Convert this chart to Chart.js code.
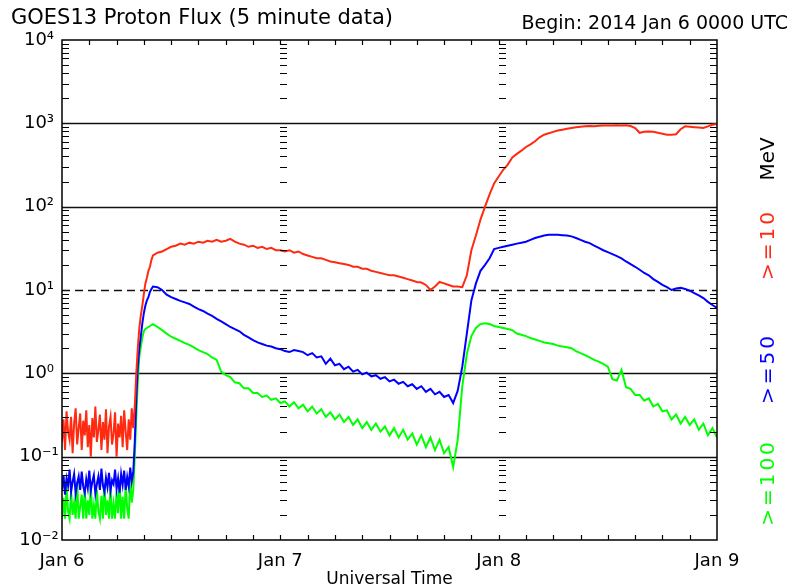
<!DOCTYPE html>
<html>
<head>
<meta charset="utf-8">
<script src="https://cdn.jsdelivr.net/npm/chart.js@4"></script>
<style>
html,body{margin:0;padding:0;background:#fff;}
</style>
</head>
<body>
<canvas id="protonChart" width="800" height="586"></canvas>
<script>
// GOES13 proton flux, 2014 Jan 6 - Jan 9
// x = hours since Jan 6 0000 UT

// sample times: every 10 min up to hour 10, then every 30 min
const hours = [];
for (let m = 0; m <= 600; m += 10) hours.push(m / 60);
for (let m = 630; m <= 4320; m += 30) hours.push(m / 60);

// >=10 MeV
const flux10 = [
  0.15, 0.28, 0.12, 0.35, 0.20, 0.16, 0.30, 0.11,
  0.25, 0.38, 0.14, 0.22, 0.33, 0.12, 0.27, 0.18,
  0.36, 0.13, 0.24, 0.10, 0.29, 0.17, 0.40, 0.15,
  0.21, 0.32, 0.12, 0.26, 0.16, 0.37, 0.11, 0.23,
  0.30, 0.14, 0.19, 0.34, 0.10, 0.25, 0.17, 0.31,
  0.13, 0.36, 0.20, 0.12, 0.28, 0.16, 0.38, 0.22,
  0.4, 1.0, 2.0, 3.5, 5.0, 6.5, 9, 12, 14, 17, 19, 23, 26,
  // 30 min from 10.5 h
  28, 29, 31, 33, 34, 36, 35, 37,
  36, 38, 37, 39, 38, 40, 38, 39,
  41, 38, 36, 35, 33, 34, 32, 33,
  31, 32, 30, 30, 29, 30, 28, 29,
  27, 26, 25, 24, 24, 23, 22, 21.5,
  21, 20.5, 20, 19, 19, 18, 18, 17,
  16.5, 16, 15.5, 15, 15, 14.5, 14, 13.5,
  13, 12.5, 12.3, 11.5, 10, 11, 12.5, 12,
  11.5, 11, 11, 10.8, 15, 30, 45, 70,
  100, 140, 190, 230, 277, 320, 390, 430,
  470, 520, 560, 610, 680, 730, 760, 790,
  820, 840, 860, 880, 900, 910, 920, 930,
  925, 935, 940, 945, 940, 950, 945, 950,
  930, 880, 770, 790, 800, 790, 770, 750,
  730, 730, 740, 850, 920, 910, 900, 890,
  880, 920, 960, 980
];

// >=50 MeV
const flux50 = [
  0.040, 0.060, 0.035, 0.055, 0.045, 0.070, 0.038, 0.050,
  0.062, 0.036, 0.048, 0.058, 0.040, 0.066, 0.044, 0.037,
  0.054, 0.042, 0.068, 0.039, 0.050, 0.060, 0.036, 0.047,
  0.058, 0.040, 0.072, 0.045, 0.038, 0.056, 0.043, 0.064,
  0.039, 0.052, 0.047, 0.070, 0.041, 0.055, 0.037, 0.062,
  0.046, 0.068, 0.040, 0.057, 0.044, 0.074, 0.050, 0.065,
  0.15, 0.5, 1.2, 2.0, 2.8, 4.0, 5.3, 6.5, 7.5, 8.2, 9.5, 10.3, 11.0,
  10.8, 10.0, 8.8, 8.2, 7.8, 7.4, 7.1, 6.8,
  6.3, 5.9, 5.6, 5.2, 4.9, 4.5, 4.2, 3.9,
  3.6, 3.4, 3.2, 2.9, 2.7, 2.5, 2.35, 2.25,
  2.15, 2.1, 2.0, 1.95, 1.85, 1.8, 1.9, 1.85,
  1.8, 1.65, 1.75, 1.55, 1.6, 1.3, 1.5, 1.25,
  1.3, 1.12, 1.2, 1.05, 1.1, 0.97, 1.02, 0.92,
  0.95, 0.86, 0.9, 0.8, 0.84, 0.75, 0.79, 0.7,
  0.74, 0.65, 0.7, 0.6, 0.65, 0.56, 0.6, 0.52,
  0.55, 0.44, 0.62, 1.2, 3.0, 7.5, 12, 17,
  20, 24, 31, 32, 33, 34, 35, 36,
  37, 38, 40, 42, 43.5, 45, 46, 46,
  46, 45.5, 45, 44, 42, 40, 38, 36.5,
  34, 32, 30, 28.5, 27, 25.5, 24, 22,
  20.5, 19, 17.5, 16, 15, 13.5, 12.5, 11.5,
  10.8, 10, 10.4, 10.6, 10.3, 9.8, 9.2, 8.6,
  8, 7.2, 6.6, 6.1
];

// >=100 MeV
const flux100 = [
  0.018, 0.032, 0.018, 0.045, 0.022, 0.018, 0.038, 0.020,
  0.028, 0.018, 0.050, 0.018, 0.025, 0.035, 0.018, 0.042,
  0.018, 0.030, 0.020, 0.046, 0.018, 0.026, 0.018, 0.040,
  0.022, 0.018, 0.034, 0.018, 0.048, 0.020, 0.030, 0.018,
  0.044, 0.018, 0.027, 0.018, 0.038, 0.021, 0.052, 0.018,
  0.033, 0.018, 0.046, 0.024, 0.018, 0.055, 0.028, 0.040,
  0.1, 0.3, 0.8, 1.6, 2.1, 2.7, 3.2, 3.4, 3.5, 3.6, 3.7, 3.8, 3.9,
  3.6, 3.3, 3.0, 2.75, 2.6, 2.45, 2.3, 2.2,
  2.05, 1.9, 1.8, 1.7, 1.55, 1.45, 1.05, 0.95,
  0.9, 0.78, 0.76, 0.66, 0.66, 0.58, 0.58, 0.52,
  0.54, 0.48, 0.5, 0.44, 0.46, 0.4, 0.45, 0.38,
  0.42, 0.35, 0.4, 0.33, 0.37, 0.3, 0.34, 0.28,
  0.32, 0.26, 0.3, 0.24, 0.28, 0.22, 0.26, 0.21,
  0.25, 0.2, 0.23, 0.18, 0.22, 0.17, 0.21, 0.16,
  0.19, 0.14, 0.18, 0.13, 0.17, 0.12, 0.16, 0.11,
  0.13, 0.075, 0.16, 0.7, 1.7, 2.8, 3.5, 3.9,
  4.0, 3.9, 3.7, 3.6, 3.5, 3.4, 3.3, 3.0,
  2.9, 2.8, 2.65, 2.55, 2.45, 2.35, 2.3, 2.25,
  2.15, 2.1, 2.05, 2.0, 1.85, 1.75, 1.65, 1.55,
  1.45, 1.38, 1.3, 1.2, 0.85, 0.82, 1.1, 0.68,
  0.65, 0.55, 0.55, 0.47, 0.5, 0.4, 0.43, 0.35,
  0.36, 0.28, 0.32, 0.25, 0.3, 0.24, 0.28, 0.21,
  0.25, 0.18, 0.22, 0.17
];

const dayTicks = [0, 24, 48, 72];
const dayLabels = ["Jan 6", "Jan 7", "Jan 8", "Jan 9"];
const decades = [0.01, 0.1, 1, 10, 100, 1000, 10000];

const RED = "#ff2a10";
const BLUE = "#0000ff";
const GREEN = "#00ff00";
const FONT = "DejaVu Sans";

[flux10, flux50, flux100].forEach((a, i) => {
  if (a.length !== hours.length) console.error("series " + i + " has " + a.length + " values, expected " + hours.length);
});

const pts = vals => vals.map((v, i) => ({ x: hours[i], y: v }));

const SUP = { "-": "\u207B", "0": "\u2070", "1": "\u00B9", "2": "\u00B2", "3": "\u00B3", "4": "\u2074" };
const powLabel = v => "10" + String(Math.round(Math.log10(v))).split("").map(c => SUP[c]).join("");

// box, dashed 10 line, minor ticks, texts
const frame = {
  id: "frame",
  beforeDatasetsDraw(chart) {
    const { ctx, chartArea: a, scales: { y } } = chart;
    ctx.save();
    ctx.strokeStyle = "#111";
    ctx.lineWidth = 1.3;
    decades.slice(1, -1).forEach(v => {
      const py = Math.round(y.getPixelForValue(v)) + 0.5;
      ctx.setLineDash(v === 10 ? [8, 5] : []);
      ctx.beginPath();
      ctx.moveTo(a.left, py);
      ctx.lineTo(a.right, py);
      ctx.stroke();
    });
    ctx.restore();
  },
  afterDatasetsDraw(chart) {
    const { ctx, chartArea: a, scales: { x, y } } = chart;
    ctx.save();
    ctx.strokeStyle = "#000";
    ctx.lineWidth = 1.5;
    ctx.strokeRect(a.left, a.top, a.right - a.left, a.bottom - a.top);
    ctx.lineWidth = 1.2;
    ctx.beginPath();
    for (let p = -2; p < 4; p++) {
      for (let k = 2; k <= 9; k++) {
        const py = Math.round(y.getPixelForValue(k * Math.pow(10, p))) + 0.5;
        ctx.moveTo(a.left, py); ctx.lineTo(a.left + 7, py);
        ctx.moveTo(a.right - 7, py); ctx.lineTo(a.right, py);
        [24, 48].forEach(h => {
          const px = Math.round(x.getPixelForValue(h));
          ctx.moveTo(px, py); ctx.lineTo(px + 7, py);
        });
      }
    }
    for (let h = 3; h < 72; h += 3) {
      const px = Math.round(x.getPixelForValue(h)) + 0.5;
      ctx.moveTo(px, a.top); ctx.lineTo(px, a.top + 5);
      ctx.moveTo(px, a.bottom); ctx.lineTo(px, a.bottom - 5);
    }
    ctx.stroke();
    ctx.restore();
  },
  afterDraw(chart) {
    const { ctx, scales: { y } } = chart;
    ctx.save();
    ctx.fillStyle = "#000";
    ctx.textBaseline = "middle";
    // y tick labels, centred under the axis like the IDL plot
    ctx.font = "18px " + FONT;
    ctx.textAlign = "center";
    y.ticks.forEach(t => ctx.fillText(powLabel(t.value), 39, y.getPixelForValue(t.value)));
    ctx.font = "21px " + FONT;
    ctx.textAlign = "left";
    ctx.fillText("GOES13 Proton Flux (5 minute data)", 11, 19);
    ctx.font = "19px " + FONT;
    ctx.textAlign = "right";
    ctx.fillText("Begin: 2014 Jan 6 0000 UTC", 788, 24);
    const side = [["MeV", "#000", 159, 0], [">=10", RED, 243, 3], [">=50", BLUE, 367, 3], [">=100", GREEN, 481, 3]];
    ctx.font = "20px " + FONT;
    ctx.textAlign = "center";
    side.forEach(([t, c, cy, sp]) => {
      ctx.save();
      ctx.translate(769, cy + sp / 2);
      ctx.rotate(-Math.PI / 2);
      ctx.letterSpacing = sp + "px";
      ctx.fillStyle = c;
      ctx.fillText(t, 0, 0);
      ctx.restore();
    });
    ctx.restore();
  }
};

const line = (label, vals, color) => ({
  label: label,
  data: pts(vals),
  borderColor: color,
  borderWidth: 2,
  pointRadius: 0,
  tension: 0,
  fill: false
});

new Chart(document.getElementById("protonChart"), {
  type: "line",
  data: {
    datasets: [
      line(">=10 MeV", flux10, RED),
      line(">=50 MeV", flux50, BLUE),
      line(">=100 MeV", flux100, GREEN)
    ]
  },
  options: {
    responsive: false,
    animation: false,
    layout: { padding: { top: 40, right: 83, left: 0, bottom: 0 } },
    plugins: { legend: { display: false }, tooltip: { enabled: false } },
    scales: {
      x: {
        type: "linear",
        min: 0,
        max: 72,
        afterFit: s => { s.height = 46; },
        afterBuildTicks: s => { s.ticks = dayTicks.map(v => ({ value: v })); },
        ticks: {
          callback: (v, i) => dayLabels[i],
          font: { family: FONT, size: 18 },
          color: "#000",
          padding: 3,
          maxRotation: 0,
          autoSkip: false
        },
        grid: { display: false },
        border: { display: false },
        title: {
          display: true,
          text: "Universal Time",
          font: { family: FONT, size: 17 },
          color: "#000",
          padding: { top: 0, bottom: -4 }
        }
      },
      y: {
        type: "logarithmic",
        min: 0.01,
        max: 10000,
        afterFit: s => { s.width = 62; },
        afterBuildTicks: s => { s.ticks = decades.map(v => ({ value: v })); },
        ticks: { display: false },
        grid: { display: false },
        border: { display: false }
      }
    }
  },
  plugins: [frame]
});
</script>
</body>
</html>
